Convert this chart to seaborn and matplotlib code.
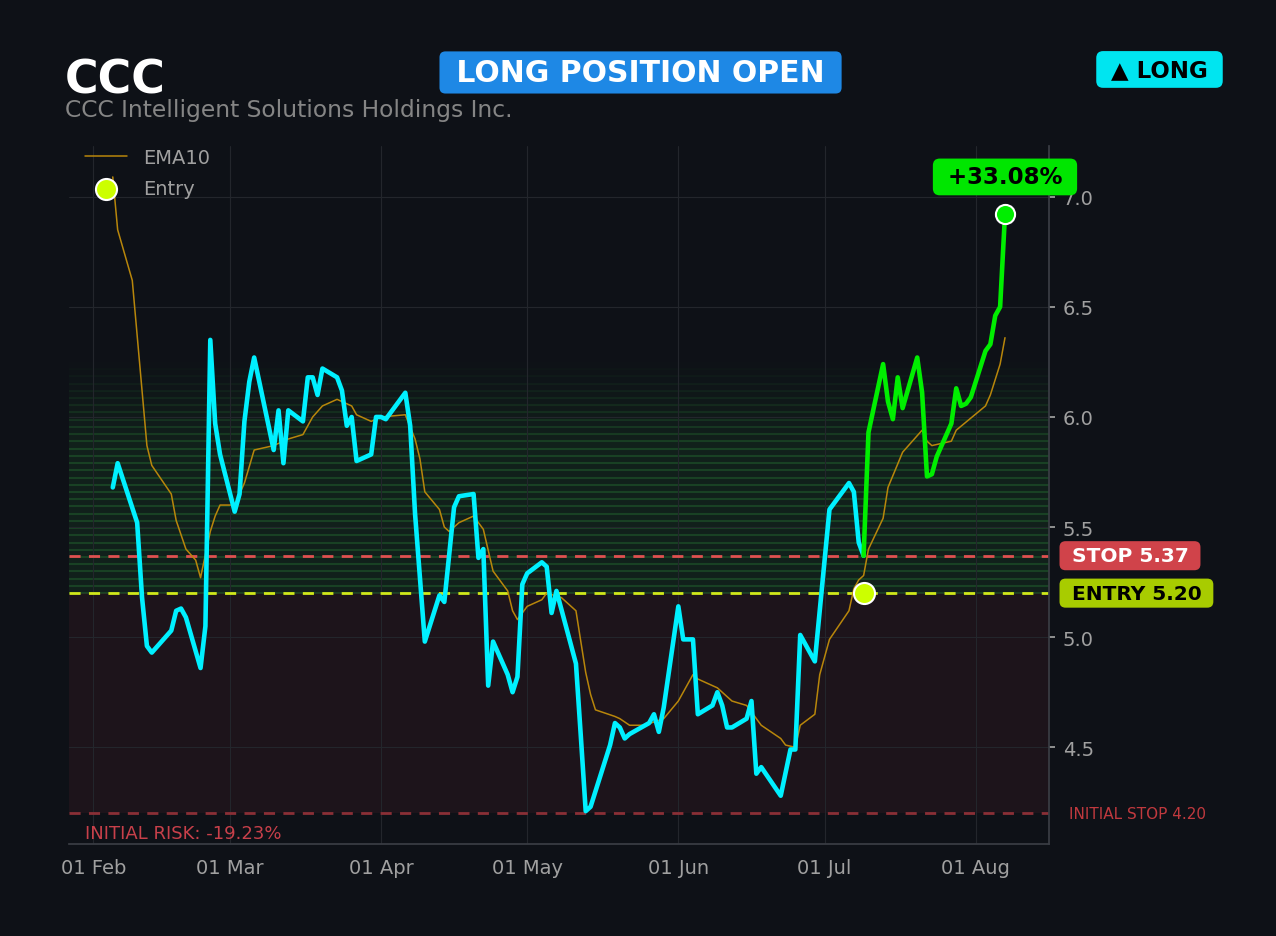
import pandas as pd
import numpy as np
import matplotlib
matplotlib.use("Agg")
import matplotlib.pyplot as plt
import matplotlib.dates as mdates
import seaborn as sns

# === Chart data ===
ticker = "CCC"
company = "CCC Intelligent Solutions Holdings Inc."
entry_date = "2025-07-09"
entry_price = 5.20
stop_price = 5.37
initial_stop = 4.20
pnl_pct = 33.08
risk_pct = -19.23

# close before the entry (cyan)
pre_dates = [
    "2025-02-05", "2025-02-06", "2025-02-10", "2025-02-11", "2025-02-12", "2025-02-13",
    "2025-02-17", "2025-02-18", "2025-02-19", "2025-02-20", "2025-02-23", "2025-02-24",
    "2025-02-25", "2025-02-26", "2025-02-27", "2025-03-02", "2025-03-03", "2025-03-04",
    "2025-03-05", "2025-03-06", "2025-03-10", "2025-03-11", "2025-03-12", "2025-03-13",
    "2025-03-16", "2025-03-17", "2025-03-18", "2025-03-19", "2025-03-20", "2025-03-23",
    "2025-03-24", "2025-03-25", "2025-03-26", "2025-03-27", "2025-03-30", "2025-03-31",
    "2025-04-01", "2025-04-02", "2025-04-06", "2025-04-07", "2025-04-08", "2025-04-10",
    "2025-04-13", "2025-04-14", "2025-04-16", "2025-04-17", "2025-04-20", "2025-04-21",
    "2025-04-22", "2025-04-23", "2025-04-24", "2025-04-27", "2025-04-28", "2025-04-29",
    "2025-04-30", "2025-05-01", "2025-05-04", "2025-05-05", "2025-05-06", "2025-05-07",
    "2025-05-11", "2025-05-12", "2025-05-13", "2025-05-14", "2025-05-18", "2025-05-19",
    "2025-05-20", "2025-05-21", "2025-05-22", "2025-05-26", "2025-05-27", "2025-05-28",
    "2025-05-29", "2025-06-01", "2025-06-02", "2025-06-04", "2025-06-05", "2025-06-08",
    "2025-06-09", "2025-06-10", "2025-06-11", "2025-06-12", "2025-06-15", "2025-06-16",
    "2025-06-17", "2025-06-18", "2025-06-22", "2025-06-24", "2025-06-25", "2025-06-26",
    "2025-06-29", "2025-07-02", "2025-07-06", "2025-07-07", "2025-07-08", "2025-07-09",
]
pre_close = [
    5.68, 5.79, 5.52, 5.18, 4.96, 4.93,
    5.03, 5.12, 5.13, 5.09, 4.86, 5.05,
    6.35, 5.97, 5.83, 5.57, 5.65, 5.98,
    6.16, 6.27, 5.85, 6.03, 5.79, 6.03,
    5.98, 6.18, 6.18, 6.10, 6.22, 6.18,
    6.12, 5.96, 6.00, 5.80, 5.83, 6.00,
    6.00, 5.99, 6.11, 5.96, 5.56, 4.98,
    5.19, 5.16, 5.59, 5.64, 5.65, 5.36,
    5.40, 4.78, 4.98, 4.83, 4.75, 4.82,
    5.24, 5.29, 5.34, 5.32, 5.11, 5.21,
    4.88, 4.55, 4.21, 4.23, 4.51, 4.61,
    4.59, 4.54, 4.56, 4.61, 4.65, 4.57,
    4.68, 5.14, 4.99, 4.99, 4.65, 4.69,
    4.75, 4.69, 4.59, 4.59, 4.63, 4.71,
    4.38, 4.41, 4.28, 4.49, 4.49, 5.01,
    4.89, 5.58, 5.70, 5.66, 5.43, 5.37,
]

# close after the entry (green)
post_dates = [
    "2025-07-09", "2025-07-10", "2025-07-13", "2025-07-14", "2025-07-15", "2025-07-16",
    "2025-07-17", "2025-07-20", "2025-07-21", "2025-07-22", "2025-07-23", "2025-07-24",
    "2025-07-27", "2025-07-28", "2025-07-29", "2025-07-30", "2025-07-31", "2025-08-03",
    "2025-08-04", "2025-08-05", "2025-08-06", "2025-08-07",
]
post_close = [
    5.37, 5.93, 6.24, 6.07, 5.99, 6.18,
    6.04, 6.27, 6.11, 5.73, 5.74, 5.82,
    5.97, 6.13, 6.05, 6.06, 6.09, 6.30,
    6.33, 6.46, 6.50, 6.92,
]

ema_dates = [
    "2025-02-05", "2025-02-06", "2025-02-09", "2025-02-12", "2025-02-13", "2025-02-17",
    "2025-02-18", "2025-02-20", "2025-02-22", "2025-02-23", "2025-02-25", "2025-02-26",
    "2025-02-27", "2025-03-02", "2025-03-04", "2025-03-06", "2025-03-10", "2025-03-13",
    "2025-03-16", "2025-03-18", "2025-03-20", "2025-03-23", "2025-03-26", "2025-03-27",
    "2025-03-30", "2025-04-01", "2025-04-06", "2025-04-08", "2025-04-09", "2025-04-10",
    "2025-04-13", "2025-04-14", "2025-04-15", "2025-04-17", "2025-04-20", "2025-04-21",
    "2025-04-22", "2025-04-24", "2025-04-27", "2025-04-28", "2025-04-29", "2025-05-01",
    "2025-05-04", "2025-05-05", "2025-05-08", "2025-05-11", "2025-05-12", "2025-05-13",
    "2025-05-14", "2025-05-15", "2025-05-19", "2025-05-20", "2025-05-22", "2025-05-25",
    "2025-05-29", "2025-06-01", "2025-06-04", "2025-06-05", "2025-06-09", "2025-06-12",
    "2025-06-15", "2025-06-18", "2025-06-22", "2025-06-23", "2025-06-25", "2025-06-26",
    "2025-06-29", "2025-06-30", "2025-07-02", "2025-07-06", "2025-07-07", "2025-07-08",
    "2025-07-09", "2025-07-10", "2025-07-13", "2025-07-14", "2025-07-17", "2025-07-21",
    "2025-07-22", "2025-07-23", "2025-07-25", "2025-07-27", "2025-07-28", "2025-08-03",
    "2025-08-04", "2025-08-06", "2025-08-07",
]
ema_vals = [
    7.09, 6.85, 6.62, 5.87, 5.78, 5.65,
    5.53, 5.40, 5.35, 5.27, 5.48, 5.55,
    5.60, 5.60, 5.70, 5.85, 5.87, 5.90,
    5.92, 6.00, 6.05, 6.08, 6.05, 6.01,
    5.98, 6.00, 6.01, 5.90, 5.81, 5.66,
    5.58, 5.50, 5.48, 5.52, 5.55, 5.52,
    5.49, 5.30, 5.21, 5.12, 5.08, 5.14,
    5.17, 5.20, 5.18, 5.12, 4.98, 4.84,
    4.74, 4.67, 4.64, 4.63, 4.60, 4.60,
    4.63, 4.71, 4.83, 4.81, 4.77, 4.71,
    4.69, 4.60, 4.54, 4.51, 4.50, 4.60,
    4.65, 4.83, 4.99, 5.12, 5.22, 5.26,
    5.28, 5.40, 5.54, 5.68, 5.84, 5.94,
    5.89, 5.87, 5.88, 5.89, 5.94, 6.05,
    6.10, 6.24, 6.36,
]

# === Style ===
bg = "#0e1117"
sns.set_theme(style="dark", rc={
    "figure.facecolor": bg,
    "axes.facecolor": bg,
    "axes.edgecolor": "#3a3d44",
    "grid.color": "#23262c",
    "text.color": "#a0a0a0",
    "xtick.color": "#a0a0a0",
    "ytick.color": "#a0a0a0",
})
plt.rcParams["font.family"] = ["DejaVu Sans"]

pre = pd.DataFrame({"date": pd.to_datetime(pre_dates), "close": pre_close})
post = pd.DataFrame({"date": pd.to_datetime(post_dates), "close": post_close})
ema = pd.DataFrame({"date": pd.to_datetime(ema_dates), "ema": ema_vals})

fig = plt.figure(figsize=(12.76, 9.37), dpi=100)
ax = fig.add_axes([0.054, 0.098, 0.768, 0.745])

# zones: risk (red) and profit (green stripes fading upward)
ax.axhspan(initial_stop, entry_price, color="#e0405a", alpha=0.075, lw=0, zorder=0)
levels = np.linspace(entry_price, 6.25, 33)
for i in range(len(levels) - 1):
    fade = np.clip((6.25 - levels[i]) / 0.4, 0, 1)
    ax.axhspan(levels[i], levels[i + 1], color="#2f9a3c", alpha=0.11 * fade, lw=0, zorder=0)
    ax.axhline(levels[i], color="#2f9a3c", alpha=0.28 * fade, lw=1.5, zorder=0)

ax.axhline(stop_price, color="#e05050", lw=2, ls=(0, (4, 3)), zorder=2)
ax.axhline(entry_price, color="#d0e81a", lw=2, ls=(0, (4, 3)), zorder=2)
ax.axhline(initial_stop, color="#8a2f36", lw=2, ls=(0, (4, 3)), zorder=2)

sns.lineplot(data=ema, x="date", y="ema", ax=ax, color="#b8860b", lw=1.1,
             label="EMA10", zorder=3)
sns.lineplot(data=pre, x="date", y="close", ax=ax, color="#00f0ff", lw=3.3, zorder=4)
sns.lineplot(data=post, x="date", y="close", ax=ax, color="#00ee00", lw=3.3, zorder=4)

entry_df = pd.DataFrame({"date": pd.to_datetime([entry_date]), "price": [entry_price]})
sns.scatterplot(data=entry_df, x="date", y="price", ax=ax, color="#ccff00", s=230,
                edgecolor="white", linewidth=1.5, label="Entry", zorder=5)
last_df = post.tail(1)
sns.scatterplot(data=last_df, x="date", y="close", ax=ax, color="#00ee00", s=190,
                edgecolor="white", linewidth=1.5, zorder=5)

# axes
ax.set_xlim(pd.Timestamp("2025-01-27"), pd.Timestamp("2025-08-16"))
ax.set_ylim(4.06, 7.23)
ax.yaxis.tick_right()
ax.set_yticks([4.5, 5.0, 5.5, 6.0, 6.5, 7.0])
ax.xaxis.set_major_locator(mdates.MonthLocator())
ax.xaxis.set_major_formatter(mdates.DateFormatter("%d %b"))
ax.tick_params(axis="both", labelsize=14, length=4, color="#a0a0a0", pad=6)
ax.set_xlabel("")
ax.set_ylabel("")
ax.grid(True, color="#23262c", lw=0.8)
for side in ["top", "left"]:
    ax.spines[side].set_visible(False)
for side in ["right", "bottom"]:
    ax.spines[side].set_color("#3a3d44")

leg = ax.legend(loc="upper left", bbox_to_anchor=(0.008, 1.008), borderaxespad=0,
                frameon=False, fontsize=14, labelcolor="#a0a0a0",
                handlelength=2.2, labelspacing=0.6)

# labels on the right edge
ytr = ax.get_yaxis_transform()
box = dict(boxstyle="round,pad=0.25,rounding_size=0.3", ec="none")
ax.text(1.016, stop_price, " STOP 5.37 ", transform=ytr, ha="left", va="center",
        fontsize=14.5, fontweight="bold", color="white", bbox={**box, "fc": "#d0434a"})
ax.text(1.016, entry_price, " ENTRY 5.20 ", transform=ytr, ha="left", va="center",
        fontsize=14.5, fontweight="bold", color="black", bbox={**box, "fc": "#a8cc00"})
ax.text(1.021, initial_stop, "INITIAL STOP 4.20", transform=ytr, ha="left", va="center",
        fontsize=11, color="#c0393e")
ax.text(0.016, 4.11, f"INITIAL RISK: {risk_pct:.2f}%", transform=ytr, ha="left",
        va="center", fontsize=13, color="#c8404a")

ax.text(post["date"].iloc[-1], 7.09, f" +{pnl_pct:.2f}% ", ha="center", va="center",
        fontsize=16.5, fontweight="bold", color="black", zorder=6,
        bbox=dict(boxstyle="round,pad=0.3,rounding_size=0.3", fc="#00e600", ec="none"))

# header
fig.text(0.051, 0.9005, ticker, fontsize=33, fontweight="bold", color="white",
         va="baseline")
fig.text(0.051, 0.875, company, fontsize=16.8, color="#858585", va="baseline")
fig.text(0.502, 0.9216, " LONG POSITION OPEN ", fontsize=21.5, fontweight="bold",
         color="white", ha="center", va="center",
         bbox=dict(boxstyle="round,pad=0.22,rounding_size=0.2", fc="#1e88e5", ec="none"))
fig.text(0.9087, 0.9248, " ▲ LONG ", fontsize=16.5, fontweight="bold", color="black",
         ha="center", va="center",
         bbox=dict(boxstyle="round,pad=0.3,rounding_size=0.3", fc="#00e5f0", ec="none"))

fig.savefig("out.png", dpi=100, facecolor=bg)
